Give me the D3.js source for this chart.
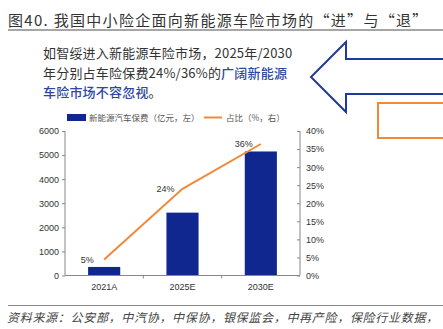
<!DOCTYPE html>
<html><head><meta charset="utf-8">
<script src="https://cdn.jsdelivr.net/npm/d3@7"></script>
<style>body{margin:0;background:#fff}svg{display:block}</style>
</head><body>
<svg id="c" width="443" height="329"></svg>
<script>
const categories = ["2021A", "2025E", "2030E"];
const premium = [355, 2610, 5150];          // 新能源汽车保费（亿元，左）
const share = [4.4, 24, 36.4];              // 占比（%，右）
const shareLabels = ["5%", "24%", "36%"];
const leftTicks = [0, 1000, 2000, 3000, 4000, 5000, 6000];
const rightTicks = [0, 5, 10, 15, 20, 25, 30, 35, 40];

const svg = d3.select("#c");
const CJK = "'Noto Sans CJK SC', sans-serif";
const LAT = "Arial, 'Liberation Sans', sans-serif";

// Title
svg.append("text").attr("x", 8).attr("y", 26)
  .attr("font-family", CJK).attr("font-size", 15).attr("letter-spacing", 1.3)
  .attr("fill", "#333").text("图40. 我国中小险企面向新能源车险市场的“进”与“退”");
svg.append("line").attr("x1", 8).attr("x2", 443).attr("y1", 30).attr("y2", 30)
  .attr("stroke", "#888").attr("stroke-width", 1.5);

// Text block
const blue = "#2E47A0";
const lines = [
  [["如智绥进入新能源车险市场，2025年/2030", "#333", 400]],
  [["年分别占车险保费24%/36%的", "#333", 400], ["广阔新能源", blue, 500]],
  [["车险市场不容忽视", blue, 500], ["。", "#333", 400]]
];
lines.forEach((ln, i) => {
  const t = svg.append("text").attr("x", 43).attr("y", 58 + i * 19.5)
    .attr("font-family", CJK).attr("font-size", 13).attr("letter-spacing", 0.2);
  ln.forEach(s => t.append("tspan").attr("fill", s[1]).attr("font-weight", s[2]).text(s[0]));
});

// Arrow
svg.append("path")
  .attr("d", "M450,59 L346,59 L346,42 L311,77 L346,112 L346,94 L450,94")
  .attr("fill", "none").attr("stroke", "#1F3A9A").attr("stroke-width", 2);
// Orange box
svg.append("rect").attr("x", 378).attr("y", 103).attr("width", 80).attr("height", 35)
  .attr("fill", "none").attr("stroke", "#F08A3A").attr("stroke-width", 2);

// Chart
const x0 = 65, x1 = 300, yTop = 131, yBot = 275.5;
const x = d3.scaleBand().domain(categories).range([x0, x1]).paddingInner(0).paddingOuter(0);
const yL = d3.scaleLinear().domain([0, 6000]).range([yBot, yTop]);
const yR = d3.scaleLinear().domain([0, 40]).range([yBot, yTop]);
const barW = x.bandwidth() * 0.41;

svg.append("g").selectAll("rect").data(premium).join("rect")
  .attr("x", (d, i) => x(categories[i]) + x.bandwidth() / 2 - barW / 2)
  .attr("width", barW)
  .attr("y", d => yL(d)).attr("height", d => yBot - yL(d))
  .attr("fill", "#10278F");

// Axes
const gL = svg.append("g").attr("transform", `translate(${x0},0)`)
  .call(d3.axisLeft(yL).tickValues(leftTicks).tickSize(3).tickPadding(3).tickFormat(d3.format("d")));
const gR = svg.append("g").attr("transform", `translate(${x1},0)`)
  .call(d3.axisRight(yR).tickValues(rightTicks).tickSize(-3).tickPadding(6).tickFormat(d => d + "%"));
const gX = svg.append("g").attr("transform", `translate(0,${yBot})`)
  .call(d3.axisBottom(x).tickSize(0).tickPadding(8));
svg.append("g").selectAll("line").data(categories.slice(1)).join("line")
  .attr("x1", d => x(d)).attr("x2", d => x(d)).attr("y1", yBot).attr("y2", yBot + 3)
  .attr("stroke", "#888");
[gL, gR, gX].forEach(g => {
  g.selectAll("path.domain").attr("stroke", "#888");
  g.selectAll(".tick line").attr("stroke", "#888");
  g.selectAll("text").attr("font-family", LAT).attr("font-size", 9).attr("fill", "#333");
});
gL.select("path.domain").attr("d", `M0,${yTop}V${yBot}`);
gR.select("path.domain").attr("d", `M0,${yTop}V${yBot}`);
gX.select("path.domain").attr("d", `M${x0},0H${x1}`);

// Line
const cx = (d, i) => x(categories[i]) + x.bandwidth() / 2;
svg.append("path").datum(share)
  .attr("d", d3.line().x(cx).y(d => yR(d)))
  .attr("fill", "none").attr("stroke", "#F08A3A").attr("stroke-width", 2);
svg.append("g").selectAll("text").data(share).join("text")
  .attr("x", (d, i) => cx(d, i) - 17).attr("y", d => yR(d) + 3)
  .attr("text-anchor", "middle").attr("font-family", LAT).attr("font-size", 9).attr("fill", "#333")
  .text((d, i) => shareLabels[i]);

// Legend
svg.append("rect").attr("x", 67).attr("y", 114).attr("width", 19).attr("height", 7).attr("fill", "#10278F");
svg.append("text").attr("x", 89).attr("y", 121).attr("font-family", CJK).attr("font-size", 8.5)
  .attr("fill", "#555").text("新能源汽车保费（亿元，左）");
svg.append("line").attr("x1", 204).attr("x2", 222).attr("y1", 117.5).attr("y2", 117.5)
  .attr("stroke", "#F08A3A").attr("stroke-width", 2);
svg.append("text").attr("x", 226).attr("y", 121).attr("font-family", CJK).attr("font-size", 8.5)
  .attr("fill", "#555").text("占比（%，右）");

// Source
svg.append("line").attr("x1", 8).attr("x2", 443).attr("y1", 305.5).attr("y2", 305.5)
  .attr("stroke", "#888").attr("stroke-width", 1);
svg.append("text").attr("x", 7).attr("y", 322).attr("font-family", CJK).attr("font-size", 12)
  .attr("font-style", "italic").attr("letter-spacing", 0.7).attr("fill", "#444")
  .text("资料来源：公安部，中汽协，中保协，银保监会，中再产险，保险行业数据，");
</script>
</body></html>
